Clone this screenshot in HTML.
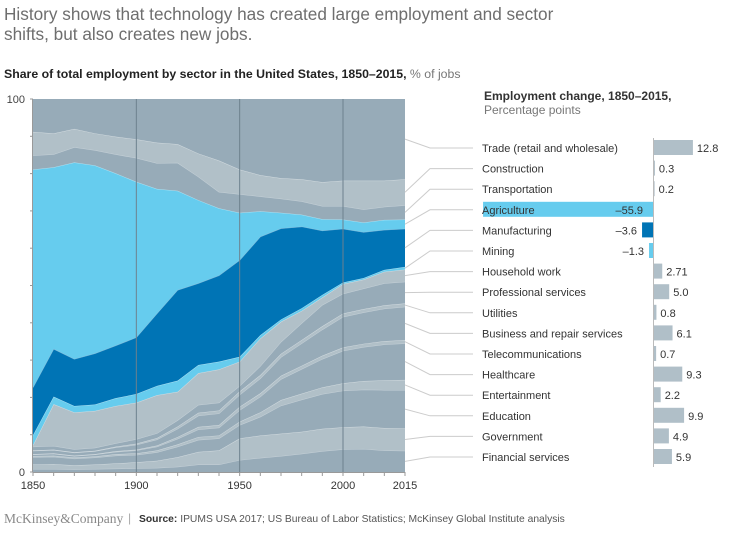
<!DOCTYPE html>
<html><head><meta charset="utf-8"><style>
body{margin:0;background:#fff;width:740px;height:534px;overflow:hidden;font-family:"Liberation Sans",Arial,sans-serif}
svg{position:absolute;left:0;top:0}
</style></head><body>
<svg id="c" width="740" height="534">
<text x="4" y="20" font-size="17.2" fill="#6e6e6e">History shows that technology has created large employment and sector</text>
<text x="4" y="40" font-size="17.2" fill="#6e6e6e">shifts, but also creates new jobs.</text>
<text x="4" y="78" font-size="12.3" fill="#222"><tspan font-weight="bold">Share of total employment by sector in the United States, 1850–2015,</tspan><tspan fill="#777"> % of jobs</tspan></text>
<text x="484" y="100" font-size="12" font-weight="bold" fill="#333">Employment change, 1850–2015,</text>
<text x="484" y="114" font-size="12" fill="#777">Percentage points</text>
<text x="4" y="523" font-size="13.5" font-family="Liberation Serif,serif" fill="#888">McKinsey&amp;Company</text>
<text x="128" y="522" font-size="12" fill="#aaa">|</text>
<text x="139" y="522" font-size="10.3" fill="#555"><tspan font-weight="bold" fill="#333">Source:</tspan> IPUMS USA 2017; US Bureau of Labor Statistics; McKinsey Global Institute analysis</text>
<g id="plot"></g>
</svg>
<script>
const years=[1850,1860,1870,1880,1890,1900,1910,1920,1930,1940,1950,1960,1970,1980,1990,2000,2005,2010,2015];
const financial=[0.8,0.8,0.7,0.8,0.9,1.0,1.1,1.4,2.0,2.0,3.2,3.8,4.3,4.9,5.6,6.1,6.2,5.8,5.7];
const government=[1.2,1.3,1.1,1.2,1.4,1.6,1.9,2.6,3.4,3.8,5.8,6.0,6.0,5.9,6.0,5.9,6.0,6.0,6.0];
const education=[2.0,2.0,1.8,1.9,2.1,2.0,2.3,2.8,3.2,3.2,3.6,5.0,7.5,8.6,9.3,9.8,9.9,10.2,10.3];
const entertainment=[0.3,0.3,0.3,0.3,0.4,0.4,0.5,0.6,0.8,0.8,0.9,1.2,1.5,1.6,1.8,2.0,2.3,2.6,2.7];
const healthcare=[0.4,0.5,0.4,0.5,0.6,0.8,1.0,1.5,2.0,2.1,3.1,4.2,5.6,6.6,7.6,8.7,9.1,9.6,9.8];
const telecom=[0.1,0.1,0.1,0.1,0.2,0.2,0.3,0.5,0.7,0.7,0.9,0.9,0.9,0.9,0.9,0.9,0.9,0.9,0.9];
const business=[0.9,0.9,0.8,0.8,1.0,1.3,1.6,2.2,3.0,3.1,3.2,4.0,5.0,6.0,7.0,8.2,8.4,8.7,8.9];
const utilities=[0.1,0.1,0.1,0.1,0.2,0.3,0.4,0.6,0.8,0.8,0.9,0.9,0.9,0.9,0.9,0.9,0.9,0.9,0.9];
const professional=[1.0,1.0,0.8,0.8,0.9,1.2,1.3,1.7,2.1,2.1,1.5,2.4,3.2,4.5,5.7,5.3,5.5,5.9,5.8];
const household=[0.4,11.2,9.9,9.9,10.0,9.8,10.2,7.6,8.5,8.9,6.5,7.4,5.4,3.3,2.0,2.6,2.4,3.1,3.3];
const mining=[2.7,2.0,1.7,1.7,2.1,2.3,2.5,3.0,2.2,2.1,1.3,0.9,0.6,0.7,0.7,0.4,0.4,0.5,0.7];
const manufacturing=[12.8,12.8,12.6,13.7,14.1,15.2,19.4,24.3,21.9,23.1,25.9,26.4,24.4,21.9,17.2,14.4,12.3,10.7,10.2];
const agriculture=[58.4,48.7,52.7,50.4,46.2,41.7,33.4,26.6,22.3,18.0,12.7,6.8,4.2,3.2,3.1,2.5,2.6,2.7,2.5];
const transportation=[3.8,3.5,4.1,4.1,5.1,6.4,6.9,7.5,6.3,4.4,5.0,4.0,3.8,3.6,3.5,3.6,3.5,3.5,3.8];
const construction=[6.3,5.6,4.9,4.5,4.7,5.0,5.5,5.0,6.2,8.4,6.6,5.7,5.5,5.9,6.4,6.8,7.7,7.0,7.0];
const trade=[8.8,9.2,8.0,9.2,10.1,10.8,11.7,12.1,14.6,16.5,18.9,20.4,21.2,21.5,22.3,21.9,21.9,21.9,21.5];
const barLabels=["Trade (retail and wholesale)","Construction","Transportation","Agriculture","Manufacturing","Mining","Household work","Professional services","Utilities","Business and repair services","Telecommunications","Healthcare","Entertainment","Education","Government","Financial services"];
const changes=[12.8,0.3,0.2,-55.9,-3.6,-1.3,2.71,5.0,0.8,6.1,0.7,9.3,2.2,9.9,4.9,5.9];
const changeText=["12.8","0.3","0.2","–55.9","–3.6","–1.3","2.71","5.0","0.8","6.1","0.7","9.3","2.2","9.9","4.9","5.9"];
const yTicks=[0,10,20,30,40,50,60,70,80,90,100];
const xLabels=[1850,1900,1950,2000,2015];

const NS="http://www.w3.org/2000/svg";
const g=document.getElementById('plot');
function mk(t,a,p){const e=document.createElementNS(NS,t);for(const k in a)e.setAttribute(k,a[k]);(p||g).appendChild(e);return e;}
const X0=33,X1=405,Y0=472,Y1=99;
const xs=i=>X0+i*(X1-X0)/(years.length-1);
const ys=v=>Y0-v*(Y0-Y1)/100;
const DK="#97abb8",LT="#b1c0c8",LB="#66ccee",DB="#0074b5";
const stack=[
 [financial,DK,15,'area-financial'],[government,LT,14,'area-government'],[education,DK,13,'area-education'],
 [entertainment,LT,12,'area-entertainment'],[healthcare,DK,11,'area-healthcare'],[telecom,LT,10,'area-telecom'],
 [business,DK,9,'area-business'],[utilities,LT,8,'area-utilities'],[professional,DK,7,'area-professional'],
 [household,LT,6,'area-household'],[mining,LB,5,'area-mining'],[manufacturing,DB,4,'area-manufacturing'],
 [agriculture,LB,3,'area-agriculture'],[transportation,DK,2,'area-transportation'],[construction,LT,1,'area-construction'],[trade,DK,0,'area-trade']];
const bg=mk('rect',{x:X0,y:Y1,width:X1-X0,height:Y0-Y1,fill:DK});

let base=years.map(()=>0);
const mids={};
stack.forEach((s,si)=>{
  const vals=s[0];
  const top=base.map((b,i)=>b+vals[i]);
  let d='M'+years.map((_,i)=>xs(i)+','+ys(si===stack.length-1?Math.max(top[i],100):top[i])).join('L');
  for(let i=years.length-1;i>=0;i--)d+='L'+xs(i)+','+ys(base[i]);
  const p=mk('path',{d:d+'Z',fill:s[1]});
  
  
  if(si<stack.length-1){
    const l=mk('polyline',{points:years.map((_,i)=>xs(i)+','+ys(top[i])).join(' '),fill:'none',stroke:'#fff','stroke-opacity':0.45,'stroke-width':1});
    
    
  }
  const n=years.length-1;
  mids[s[2]]=ys((base[n]+top[n])/2);
  base=top;
});
[5,10,15].forEach(i=>{
  const l=mk('line',{x1:xs(i),x2:xs(i),y1:Y1,y2:Y0,stroke:'#6d818e','stroke-width':1});
  
  
});
const ax=mk('line',{x1:X0,x2:X1,y1:Y0+0.5,y2:Y0+0.5,stroke:'#999'});

const ay=mk('line',{x1:X0-0.5,x2:X0-0.5,y1:Y1,y2:Y0,stroke:'#999'});

years.forEach((y,i)=>{const t=mk('line',{x1:xs(i),x2:xs(i),y1:Y0,y2:Y0+4,stroke:'#999'});
 });
yTicks.forEach(v=>{const t=mk('line',{x1:X0-3,x2:X0,y1:ys(v),y2:ys(v),stroke:'#999'});
 
 if(v===0||v===100){const tx=mk('text',{x:X0-8,y:ys(v)+4,'font-size':11,fill:'#444','text-anchor':'end'});tx.textContent=v;
 }});
xLabels.forEach(y=>{const i=years.indexOf(y);const tx=mk('text',{x:xs(i),y:Y0+17,'font-size':11,fill:'#333','text-anchor':'middle'});tx.textContent=y;
 });
const Z=653,S=3.04,R0=148,RS=20.6;
const za=mk('line',{x1:Z+0.5,x2:Z+0.5,y1:138,y2:467,stroke:'#bbb'});

barLabels.forEach((lab,k)=>{
  const cy=R0+k*RS;
  const c=mk('polyline',{points:`${X1},${mids[k]} ${X1+25},${cy} ${X1+68},${cy}`,fill:'none',stroke:'#ccc','stroke-width':1});
  
  
  const v=changes[k];
  const w=Math.abs(v)*S;
  const col=k===3||k===5?LB:(k===4?DB:'#b0bfc8');
  const b=mk('rect',{x:v<0?Z-w:Z+1,y:cy-8,width:w,height:15,fill:col});
  
  
  const t=mk('text',{x:482,y:cy+4,'font-size':11,fill:'#333'});t.textContent=lab;
  
  
  const vt=mk('text',{x:v<0?(k===3?Z-10:Z-w-5):Z+w+5,y:cy+4,'font-size':11,fill:'#333','text-anchor':v<0?'end':'start'});vt.textContent=changeText[k];
  
  
});
</script>
</body></html>
